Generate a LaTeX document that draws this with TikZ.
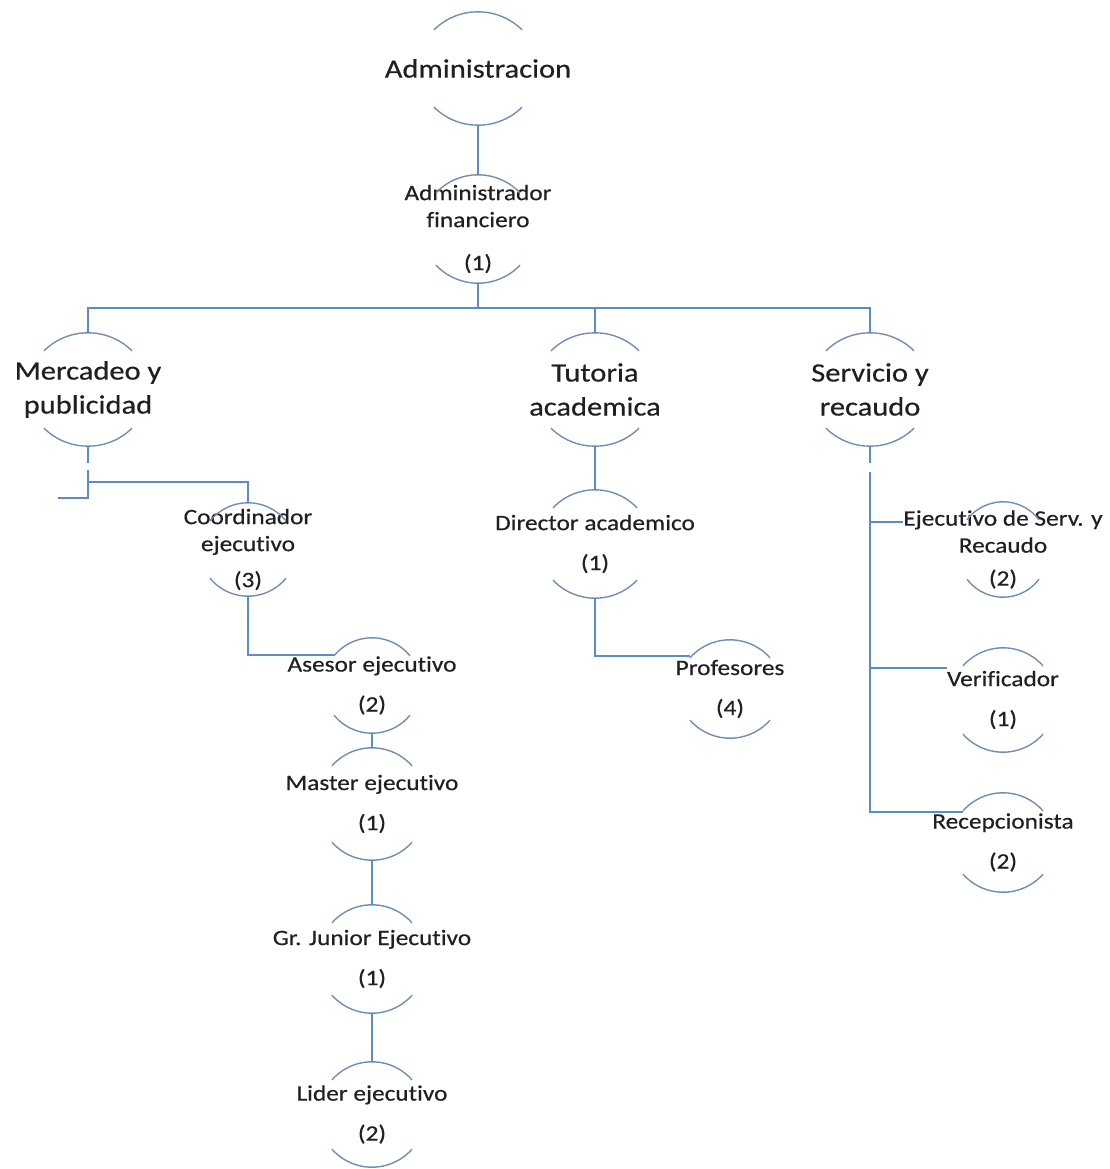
\documentclass[tikz,border=0pt]{standalone}
\usepackage{fontspec}
\setmainfont{Carlito}[FakeStretch=1.15, FakeBold=0.5, Ligatures=NoCommon]
\usepackage{tikz}

\definecolor{linkblue}{RGB}{91,140,196}
\definecolor{arcgray}{RGB}{112,142,178}
\definecolor{txtgray}{RGB}{32,32,32}

\tikzset{
  post/.style={text=txtgray, align=center, inner sep=0pt, minimum width=80pt,
    font=\fontsize{22}{27}\selectfont},
  area/.style={post, minimum width=88pt, font=\fontsize{26.5}{34}\selectfont},
  link/.style={draw=linkblue, line width=1.6pt},
  arcline/.style={draw=arcgray, line width=1.4pt},
}

\begin{document}
\begin{tikzpicture}[x=1pt, y=1pt]
        \useasboundingbox (0,0) rectangle (1110,-1169);

        % areas
        \node[area, minimum height=113pt] (adm) at (478,-68.5) {Administracion};
        \node[post, minimum height=108pt] (fin) at (478,-229) {Administrador\\financiero\\[16pt](1)};
        \node[area, minimum height=113pt] (mer) at (88,-389.5) {Mercadeo y\\publicidad};
        \node[area, minimum height=113pt] (tut) at (595,-389.5) {Tutoria\\academica};
        \node[area, minimum height=113pt] (ser) at (870,-389.5) {Servicio y\\recaudo};

        % posts
        \node[post, minimum height=93pt] (coo) at (248,-549.5) {Coordinador\\ejecutivo\\[9pt](3)};
        \node[post, minimum height=95pt] (ase) at (372,-685.5) {Asesor ejecutivo\\[13pt](2)};
        \node[post, minimum height=112pt] (mas) at (372,-804) {Master ejecutivo\\[13pt](1)};
        \node[post, minimum height=108pt] (gru) at (372,-959) {Gr. Junior Ejecutivo\\[13pt](1)};
        \node[post, minimum height=105pt] (lid) at (372,-1114.5) {Lider ejecutivo\\[13pt](2)};
        \node[post, minimum height=108pt] (dir) at (595,-544) {Director academico\\[13pt](1)};
        \node[post, minimum height=98pt] (pro) at (730,-689) {Profesores\\[13pt](4)};
        \node[post, minimum height=95pt] (eje) at (1003,-549.5) {Ejecutivo de Serv. y\\Recaudo\\[6pt](2)};
        \node[post, minimum height=104pt] (ver) at (1003,-700) {Verificador\\[13pt](1)};
        \node[post, minimum height=99pt] (rec) at (1003,-842.5) {Recepcionista\\[13pt](2)};

        % arcs above and below each box
        \foreach \n/\w in {adm/44, fin/42, mer/44, tut/44, ser/44, coo/38, ase/38,
            mas/40, gru/40, lid/40, dir/42, pro/40, eje/36, ver/40, rec/40} {
          \pgfmathsetmacro\rad{(\w*\w+324)/36}
          \pgfmathsetmacro\ang{asin(\w/\rad)}
          \draw[arcline] (\n.north) ++(-\w pt,-18pt) arc[start angle=90+\ang, end angle=90-\ang, radius=\rad pt];
          \draw[arcline] (\n.south) ++(-\w pt,18pt) arc[start angle=270-\ang, end angle=270+\ang, radius=\rad pt];
        }

        % top levels
        \draw[link] (adm.south) -- (fin.north);
        \draw[link] (fin.south) -- ++(0,-25) coordinate (bus);
        \draw[link] (mer.north) |- (bus) -| (ser.north);
        \draw[link] (tut.north) -- (tut.north |- bus);

        % mercadeo
        \draw[link] (mer.south) -- ++(0,-17);
        \draw[link] ([yshift=-24pt]mer.south) |- ++(-30,-28);
        \draw[link] ([yshift=-36pt]mer.south) -| (coo.north);
        \draw[link] (coo.south) |- ([xshift=-38pt,yshift=-17pt]ase.north);
        \draw[link] (ase.south) -- (mas.north);
        \draw[link] (mas.south) -- (gru.north);
        \draw[link] (gru.south) -- (lid.north);

        % tutoria
        \draw[link] (tut.south) -- (dir.north);
        \draw[link] (dir.south) |- ([xshift=-40pt,yshift=-16pt]pro.north);

        % servicio
        \coordinate (ejein) at ([yshift=-20pt]eje.north west);
        \coordinate (verin) at ([yshift=-20pt]ver.north west);
        \draw[link] (ser.south) -- ++(0,-17);
        \draw[link] ([yshift=-26pt]ser.south) |- ([xshift=-40pt,yshift=-19pt]rec.north);
        \draw[link] (ser.south |- ejein) -- (ejein);
        \draw[link] (ser.south |- verin) -- (verin);
      \end{tikzpicture}
\end{document}
